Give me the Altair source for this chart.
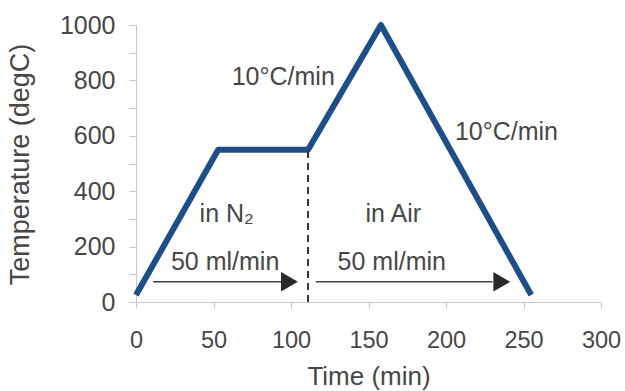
import altair as alt
import pandas as pd

# Heating programme: time (min) vs furnace temperature (degC)
time_min = [0, 53, 111, 158, 255]
temp_c = [25, 550, 550, 1000, 25]

# Switch from N2 to air
switch_time = 111
switch_temp = 550

# Gas-flow arrows: start, end of shaft, arrow-head centre, height
arrow_start = [11, 116]
arrow_end = [95, 230]
arrow_head = [99, 236]
arrow_temp = [73, 73]

# Annotations
note_text = ["10°C/min", "10°C/min", "in N₂", "in Air", "50 ml/min", "50 ml/min"]
note_time = [95, 239, 58.5, 166, 57.5, 165]
note_temp = [814, 612, 318, 318, 146, 146]

x_ticks = [0, 50, 100, 150, 200, 250, 300]
y_ticks = list(range(0, 1001, 100))

FONT = "Liberation Sans"
TEXT = "#474747"
BLUE = "#1b4e8b"

profile = pd.DataFrame({"t": time_min, "T": temp_c})
switch = pd.DataFrame({"t": [switch_time], "T0": [0], "T1": [switch_temp]})
arrows = pd.DataFrame({"t0": arrow_start, "t1": arrow_end, "th": arrow_head, "T": arrow_temp})
notes = pd.DataFrame({"label": note_text, "t": note_time, "T": note_temp})

xscale = alt.Scale(domain=[0, 300], nice=False, zero=False)
yscale = alt.Scale(domain=[0, 1000], nice=False)

x_axis = alt.Axis(
    title="Time (min)",
    values=x_ticks,
    format="d",
    grid=False,
    domainColor="#c8c8c8",
    tickColor="#c8c8c8",
    tickSize=6,
    labelFontSize=23.5,
    labelColor=TEXT,
    labelFont=FONT,
    labelPadding=20,
    labelFlush=False,
    titleFont=FONT,
    titleFontSize=26,
    titleFontWeight="normal",
    titleColor=TEXT,
    titleBaseline="alphabetic",
    titleY=82,
)

y_axis = alt.Axis(
    title="Temperature (degC)",
    values=y_ticks,
    format="d",
    labelExpr="datum.value % 200 === 0 ? datum.label : ''",
    grid=False,
    domainColor="#c8c8c8",
    tickColor="#c8c8c8",
    tickSize=7,
    labelFontSize=25,
    labelColor=TEXT,
    labelFont=FONT,
    labelPadding=14,
    labelFlush=False,
    titleFont=FONT,
    titleFontSize=27,
    titleFontWeight="normal",
    titleColor=TEXT,
    titleAngle=-90,
    titleAlign="center",
    titleBaseline="alphabetic",
    titleX=-108,
    titleY=139,
)


def xq(field):
    return alt.X(field, type="quantitative", scale=xscale, axis=x_axis, title="Time (min)")


def yq(field):
    return alt.Y(field, type="quantitative", scale=yscale, axis=y_axis, title="Temperature (degC)")


line = alt.Chart(profile).mark_line(
    color=BLUE, strokeWidth=6, strokeJoin="round", strokeCap="butt"
).encode(x=xq("t"), y=yq("T"))

dash = alt.Chart(switch).mark_rule(
    color="#333333", strokeWidth=2, strokeDash=[7, 5]
).encode(x=xq("t"), y=yq("T0"), y2="T1:Q")

shafts = alt.Chart(arrows).mark_rule(color="#3c4448", strokeWidth=1.6).encode(
    x=xq("t0"), x2="t1:Q", y=yq("T")
)

heads = alt.Chart(arrows).mark_point(
    shape="triangle-right", filled=True, color="#2a2a2a", opacity=1, size=380
).encode(x=xq("th"), y=yq("T"))

labels = alt.Chart(notes).mark_text(
    font=FONT, fontSize=25, color=TEXT, align="center", baseline="middle"
).encode(x=xq("t"), y=yq("T"), text="label:N")

chart = (
    alt.layer(line, dash, shafts, heads, labels)
    .properties(
        width=465,
        height=277,
        autosize=alt.AutoSizeParams(type="none"),
        padding={"left": 136, "top": 25, "right": 24, "bottom": 89},
        background="white",
    )
    .configure_view(stroke=None)
)

chart.save("out.html", embed_options={"renderer": "svg", "actions": False})
